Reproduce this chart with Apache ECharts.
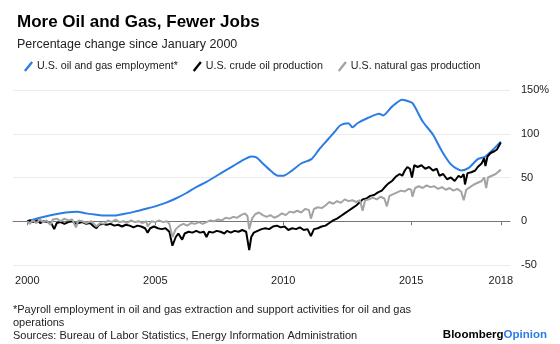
<!DOCTYPE html>
<html>
<head>
<meta charset="utf-8">
<script src="https://cdn.jsdelivr.net/npm/echarts@6/dist/echarts.min.js"></script>
<style>
html,body{margin:0;padding:0;background:#fff;}
#chart{width:560px;height:344px;}
</style>
</head>
<body>
<div id="chart"></div>
<script>
// ---- data (decimal years, % change since Jan 2000) ----
var empYears = [2000.0, 2000.5, 2001.0, 2001.5, 2001.95, 2002.3, 2002.7, 2003.0, 2003.4, 2003.8, 2004.2, 2004.6, 2005.0, 2005.4, 2005.8, 2006.2, 2006.6, 2007.0, 2007.4, 2007.8, 2008.2, 2008.5, 2008.75, 2008.95, 2009.2, 2009.5, 2009.8, 2010.0, 2010.3, 2010.7, 2011.1, 2011.4, 2011.7, 2012.0, 2012.25, 2012.55, 2012.7, 2012.9, 2013.3, 2013.75, 2013.9, 2014.25, 2014.65, 2014.8, 2015.05, 2015.45, 2015.85, 2016.2, 2016.55, 2016.95, 2017.25, 2017.6, 2017.9, 2018.2, 2018.5];
var empValues = [0, 4, 7.5, 10, 11, 9, 7.5, 6.5, 6.5, 8.5, 11, 14, 17, 21, 26, 32, 39, 45, 52, 59, 66, 71, 74, 73, 66, 58, 52, 52, 57, 66, 71, 82, 92, 102, 110, 112, 107.5, 112, 118, 123, 121, 131, 139, 138, 135, 114, 99, 80, 65, 58, 61, 71, 74, 82, 91];

var oilYears = [2000.0, 2000.1, 2000.25, 2000.4, 2000.5, 2000.65, 2000.8, 2000.95, 2001.05, 2001.15, 2001.3, 2001.45, 2001.6, 2001.75, 2001.9, 2002.0, 2002.15, 2002.3, 2002.45, 2002.6, 2002.7, 2002.8, 2002.95, 2003.1, 2003.25, 2003.4, 2003.55, 2003.7, 2003.85, 2004.0, 2004.15, 2004.3, 2004.45, 2004.6, 2004.7, 2004.8, 2004.95, 2005.1, 2005.25, 2005.4, 2005.55, 2005.67, 2005.8, 2005.9, 2006.05, 2006.15, 2006.3, 2006.45, 2006.6, 2006.75, 2006.9, 2007.0, 2007.1, 2007.25, 2007.4, 2007.55, 2007.7, 2007.8, 2007.95, 2008.1, 2008.25, 2008.4, 2008.55, 2008.67, 2008.75, 2008.85, 2009.0, 2009.15, 2009.3, 2009.45, 2009.6, 2009.75, 2009.9, 2010.05, 2010.2, 2010.35, 2010.5, 2010.65, 2010.8, 2010.95, 2011.08, 2011.2, 2011.35, 2011.5, 2011.65, 2011.8, 2011.95, 2012.1, 2012.25, 2012.4, 2012.55, 2012.7, 2012.85, 2013.0, 2013.1, 2013.25, 2013.4, 2013.55, 2013.7, 2013.85, 2014.0, 2014.1, 2014.25, 2014.4, 2014.55, 2014.65, 2014.75, 2014.85, 2014.95, 2015.03, 2015.12, 2015.25, 2015.4, 2015.55, 2015.7, 2015.85, 2016.0, 2016.1, 2016.25, 2016.4, 2016.55, 2016.7, 2016.85, 2016.95, 2017.05, 2017.1, 2017.2, 2017.35, 2017.5, 2017.6, 2017.75, 2017.85, 2017.9, 2017.98, 2018.1, 2018.25, 2018.35, 2018.5];
var oilValues = [0, 1, -1, 1, -2, 0, -1, -3, -9, -2, -1, -3, -1, 0, -3, -2, -1, -3, -2, -6, -8, -4, -3, -4, -3, -5, -4, -6, -4, -5, -7, -5, -6, -8, -13, -8, -6, -8, -9, -8, -12, -28, -18, -14, -21, -14, -12, -13, -11, -13, -12, -18, -12, -13, -11, -12, -14, -11, -13, -11, -12, -10, -12, -33, -18, -13, -11, -9, -8, -9, -6, -5, -7, -6, -10, -8, -9, -7, -10, -9, -17, -9, -8, -6, -5, -2, 1, 3, 6, 9, 12, 15, 18, 22, 25, 26, 29, 30, 33, 35, 40, 43, 46, 51, 54, 52, 58, 62, 60, 50, 64, 62, 64, 60, 62, 58, 60, 52, 54, 48, 50, 46, 52, 50, 54, 42, 55, 56, 58, 62, 66, 72, 63, 74, 78, 80, 82, 90];

var gasYears = [2000.0, 2000.1, 2000.2, 2000.35, 2000.5, 2000.6, 2000.75, 2000.9, 2001.0, 2001.15, 2001.3, 2001.45, 2001.6, 2001.75, 2001.9, 2002.0, 2002.15, 2002.3, 2002.5, 2002.7, 2002.85, 2003.0, 2003.15, 2003.3, 2003.45, 2003.6, 2003.75, 2003.9, 2004.05, 2004.2, 2004.35, 2004.5, 2004.65, 2004.7, 2004.85, 2005.0, 2005.15, 2005.3, 2005.45, 2005.55, 2005.67, 2005.8, 2005.95, 2006.1, 2006.25, 2006.4, 2006.55, 2006.7, 2006.85, 2007.0, 2007.15, 2007.3, 2007.45, 2007.6, 2007.75, 2007.9, 2008.05, 2008.2, 2008.35, 2008.5, 2008.6, 2008.67, 2008.78, 2008.9, 2009.05, 2009.2, 2009.35, 2009.5, 2009.65, 2009.8, 2009.95, 2010.1, 2010.25, 2010.4, 2010.55, 2010.7, 2010.85, 2011.0, 2011.08, 2011.2, 2011.35, 2011.5, 2011.65, 2011.8, 2011.95, 2012.1, 2012.25, 2012.4, 2012.55, 2012.7, 2012.85, 2013.0, 2013.1, 2013.2, 2013.35, 2013.5, 2013.65, 2013.8, 2013.95, 2014.05, 2014.15, 2014.3, 2014.45, 2014.6, 2014.75, 2014.9, 2015.0, 2015.05, 2015.15, 2015.3, 2015.45, 2015.6, 2015.75, 2015.9, 2016.05, 2016.2, 2016.35, 2016.5, 2016.65, 2016.8, 2016.95, 2017.05, 2017.15, 2017.3, 2017.45, 2017.6, 2017.75, 2017.85, 2017.93, 2018.0, 2018.15, 2018.3, 2018.5];
var gasValues = [0, -3, 1, -2, 2, -1, 1, -4, 2, 3, 0, 3, 1, 2, -7, 1, 0, -2, 0, -6, -2, -3, 1, -1, 2, -1, 0, -2, 1, -1, 0, -2, 0, -6, 0, -1, 1, -1, 0, -3, -18, -9, -5, -3, -5, -2, -3, -1, -3, -1, 1, 0, 2, 1, 4, 3, 5, 4, 7, 9, 6, -9, 3, 8, 10, 7, 5, 7, 4, 6, 9, 7, 11, 10, 12, 10, 14, 13, 3, 14, 16, 15, 18, 22, 20, 23, 21, 25, 23, 24, 22, 24, 12, 24, 25, 27, 25, 28, 26, 17, 29, 31, 33, 35, 34, 37, 36, 28, 38, 40, 38, 41, 39, 40, 37, 39, 36, 38, 35, 37, 34, 24, 36, 39, 42, 44, 46, 50, 38, 50, 52, 54, 59];

var seriesNames = ['U.S. oil and gas employment*', 'U.S. crude oil production', 'U.S. natural gas production'];
var xTickValues = [2000, 2005, 2010, 2015, 2018.5];
var xTickLabels = ['2000', '2005', '2010', '2015', '2018'];

function zip(xs, ys) { return xs.map(function (x, i) { return [x, ys[i]]; }); }

var FONT = '"Liberation Sans", Arial, sans-serif';
var BLUE = '#2b7de3', BLACK = '#000000', GRAY = '#a3a3a3';
var slash = 'path://M0,10 L8,0 L10,1.6 L2,11.6 Z';

var chart = echarts.init(document.getElementById('chart'), null, {renderer: 'canvas'});
chart.setOption({
  animation: false,
  backgroundColor: '#fff',
  textStyle: {fontFamily: FONT},
  title: [
    {text: 'More Oil and Gas, Fewer Jobs', left: 12, top: 9,
     textStyle: {fontFamily: FONT, fontSize: 17, fontWeight: 'bold', color: '#000'}},
    {text: 'Percentage change since January 2000', left: 12, top: 33,
     textStyle: {fontFamily: FONT, fontSize: 12.5, fontWeight: 'normal', color: '#222'}}
  ],
  legend: {
    left: 19, top: 56, itemWidth: 9, itemHeight: 11, itemGap: 15,
    textStyle: {fontFamily: FONT, fontSize: 10.7, color: '#222', padding: [0, 0, 0, -1]},
    data: [
      {name: seriesNames[0], icon: slash, itemStyle: {color: BLUE}},
      {name: seriesNames[1], icon: slash, itemStyle: {color: BLACK}},
      {name: seriesNames[2], icon: slash, itemStyle: {color: GRAY}}
    ]
  },
  grid: {left: 13, right: 50, top: 90, bottom: 79, containLabel: false},
  xAxis: {
    type: 'value', min: 1999.44, max: 2018.86,
    axisLine: {show: true, lineStyle: {color: '#777', width: 1}},
    axisTick: {show: true, length: 4, lineStyle: {color: '#777'}, customValues: xTickValues},
    axisLabel: {
      customValues: xTickValues, color: '#222', fontSize: 11, fontFamily: FONT, margin: 10,
      formatter: function (v) { var i = xTickValues.indexOf(v); return i >= 0 ? xTickLabels[i] : ''; }
    },
    splitLine: {show: false}
  },
  yAxis: {
    type: 'value', position: 'right', min: -50, max: 150, interval: 50,
    axisLine: {show: false}, axisTick: {show: false},
    axisLabel: {
      color: '#222', fontSize: 11, fontFamily: FONT, margin: 11, align: 'left',
      formatter: function (v) { return v === 150 ? '150%' : String(v); }
    },
    splitLine: {show: true, lineStyle: {color: '#ebebeb', width: 1}}
  },
  series: [
    {name: seriesNames[0], type: 'line', data: zip(empYears, empValues), showSymbol: false, smooth: 0.25,
     lineStyle: {color: BLUE, width: 2}, itemStyle: {color: BLUE}},
    {name: seriesNames[1], type: 'line', data: zip(oilYears, oilValues), showSymbol: false,
     lineStyle: {color: BLACK, width: 2}, itemStyle: {color: BLACK}},
    {name: seriesNames[2], type: 'line', data: zip(gasYears, gasValues), showSymbol: false,
     lineStyle: {color: GRAY, width: 2}, itemStyle: {color: GRAY}}
  ],
  graphic: [
    {type: 'text', left: 13, top: 303, style: {
      text: '*Payroll employment in oil and gas extraction and support activities for oil and gas\noperations\nSources: Bureau of Labor Statistics, Energy Information Administration',
      font: '11px ' + FONT, fill: '#222', lineHeight: 13}},
    {type: 'text', right: 13, top: 329, style: {
      rich: {
        b: {font: 'bold 11.5px ' + FONT, fill: '#000'},
        o: {font: 'bold 11.5px ' + FONT, fill: BLUE}
      },
      text: '{b|Bloomberg}{o|Opinion}'}}
  ]
});
</script>
</body>
</html>
